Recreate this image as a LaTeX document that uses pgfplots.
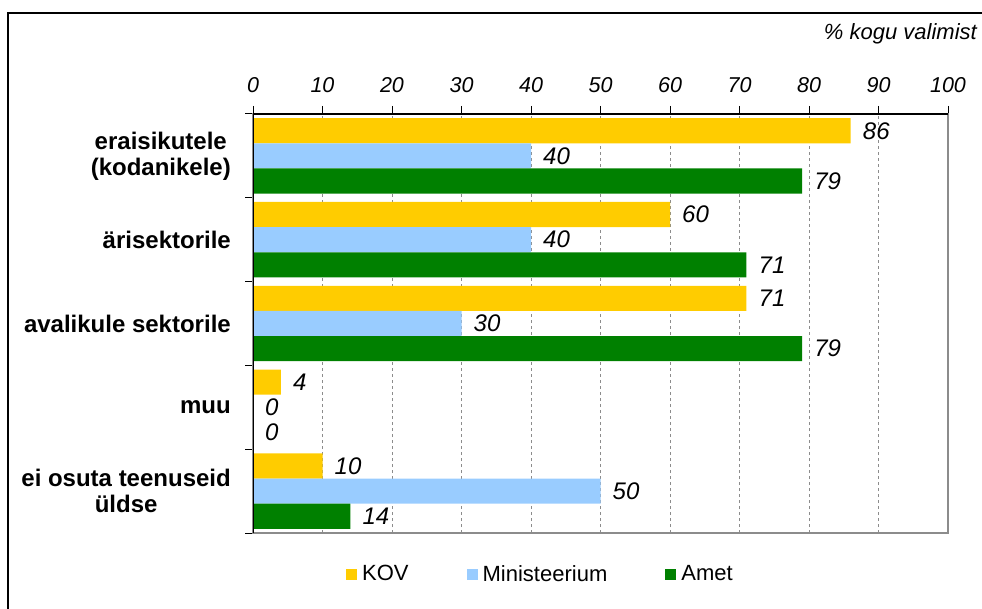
\documentclass[border=0pt]{standalone}
\usepackage{pgfplots}
\pgfplotsset{compat=1.18}
\usepackage{fontspec}
\setmainfont{Liberation Sans}
\definecolor{kov}{RGB}{255,204,0}
\definecolor{minc}{RGB}{153,204,255}
\definecolor{amet}{RGB}{0,128,0}
\definecolor{gridc}{RGB}{140,140,140}
\newcommand{\fs}{\fontsize{22}{26}\selectfont}
\newcommand{\fb}{\fontsize{24}{26}\selectfont\bfseries}
\newcommand{\ft}{\fontsize{21.5}{24}\selectfont\itshape}
\newcommand{\fd}{\fontsize{24}{26}\selectfont\itshape}
\begin{document}
\begin{tikzpicture}[x=1pt,y=1pt]
\useasboundingbox (0,0) rectangle (982,608);
\draw[line width=2pt,black] (8,-20) -- (8,595) -- (1000,595);
\node[anchor=base east,inner sep=0pt,font=\fs\itshape] at (977,568) {\% kogu valimist};
\begin{axis}[
  at={(253pt,75pt)}, anchor=south west,
  scale only axis, width=695pt, height=419pt,
  xmin=0, xmax=100, ymin=-0.5, ymax=4.5,
  xbar, bar width=0.3, point meta=x,
  /pgf/number format/assume math mode=true,
  xtick={0,10,...,100},
  xtick pos=right, xticklabel pos=right,
  ytick pos=left, yticklabel pos=left,
  ytick={0,1,2,3,4},
  yticklabels={{ei osuta teenuseid\\üldse},muu,avalikule sektorile,ärisektorile,{eraisikutele\\(kodanikele)}},
  minor ytick={-0.5,0.5,1.5,2.5,3.5,4.5},
  major y tick style={draw=none},
  minor y tick style={draw=black,line width=1pt},
  major x tick style={draw=black,line width=1pt},
  tick align=outside,
  major tick length=8pt, minor tick length=8pt,
  xmajorgrids, ymajorgrids=false,
  major grid style={gridc, dashed, line width=0.8pt},
  axis line style={gridc, line width=1.5pt},
  xticklabel style={font=\ft, inner sep=0pt},
  yticklabel style={font=\fb, align=center, inner sep=0pt, xshift=-14pt},
  xticklabel shift=13pt,
  nodes near coords,
  every node near coord/.append style={anchor=west, inner sep=0pt, xshift=12pt, font=\fd},
  legend entries={KOV,Ministeerium,Amet},
  legend columns=3,
  legend style={draw=none, fill=none, at={(0.1338,-0.0979)}, anchor=west, inner sep=0pt,
    font=\fs, column sep=5pt, nodes={inner sep=0pt},
    /tikz/every even column/.append style={column sep=58pt}},
  legend image code/.code={\fill[#1,draw=none] (0pt,-5.5pt) rectangle (11pt,5.5pt);},
]
\addplot[fill=kov, draw=none, bar shift=0.3] coordinates {(10,0) (4,1) (71,2) (60,3) (86,4)};
\addplot[fill=minc, draw=none, bar shift=0] coordinates {(50,0) (0,1) (30,2) (40,3) (40,4)};
\addplot[fill=amet, draw=none, bar shift=-0.3] coordinates {(14,0) (0,1) (79,2) (71,3) (79,4)};
\draw[black, line width=1.3pt] (rel axis cs:0,0) -- (rel axis cs:0,1) -- (rel axis cs:1,1);
\end{axis}
\end{tikzpicture}
\end{document}
